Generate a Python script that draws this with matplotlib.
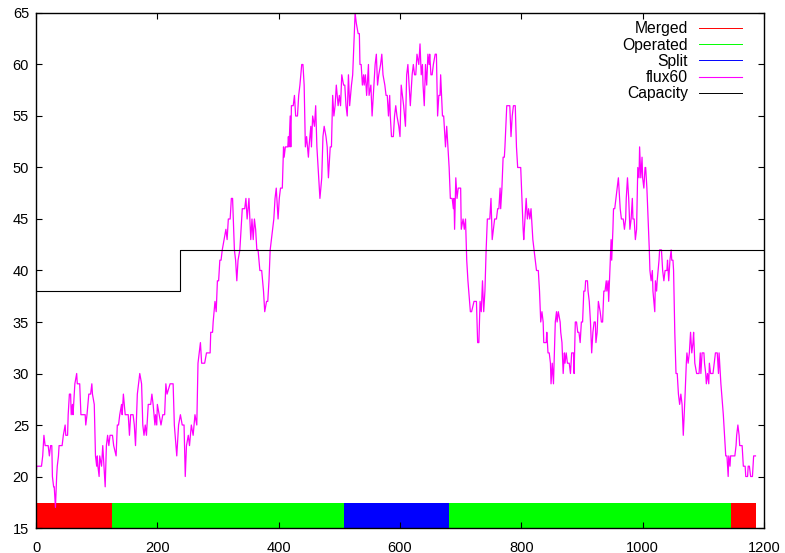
import matplotlib
matplotlib.use("Agg")
import matplotlib.pyplot as plt
from matplotlib.lines import Line2D

plt.rcParams["font.family"] = ["Liberation Sans", "DejaVu Sans"]

# flux60 series (time, flux)
flux_x = [0, 1, 9, 11, 13, 15, 20, 22, 24, 26, 27, 29, 30, 32, 34, 35, 37, 38, 43, 45,
          48, 49, 52, 53, 55, 57, 58, 60, 61, 64, 67, 68, 72, 74, 81, 82, 84, 87, 90, 92,
          93, 96, 98, 100, 101, 102, 104, 105, 108, 110, 112, 114, 116, 118, 120, 122, 126, 128, 132, 134,
          136, 138, 141, 142, 144, 147, 152, 154, 156, 160, 162, 164, 167, 171, 174, 176, 178, 180, 182, 185,
          189, 191, 193, 196, 197, 199, 200, 203, 206, 209, 212, 214, 216, 221, 226, 228, 232, 235, 238, 241,
          244, 246, 248, 251, 253, 256, 259, 262, 265, 267, 271, 273, 278, 281, 287, 288, 291, 292, 295, 297,
          299, 301, 303, 305, 307, 310, 313, 315, 317, 320, 322, 324, 327, 329, 331, 333, 336, 338, 340, 344,
          346, 348, 351, 354, 356, 358, 360, 362, 364, 366, 369, 372, 375, 377, 380, 382, 384, 386, 388, 390,
          392, 394, 396, 398, 399, 401, 403, 406, 408, 409, 411, 415, 416, 417, 419, 420, 421, 424, 426, 428,
          431, 433, 435, 438, 440, 442, 444, 446, 449, 450, 453, 454, 456, 459, 461, 463, 465, 468, 471, 473,
          475, 478, 480, 482, 485, 487, 489, 491, 493, 495, 498, 500, 502, 504, 507, 509, 511, 513, 515, 517,
          520, 522, 524, 526, 528, 531, 533, 534, 536, 538, 540, 541, 543, 545, 548, 549, 552, 554, 557, 559,
          561, 563, 565, 568, 570, 572, 575, 577, 579, 581, 583, 584, 586, 589, 591, 593, 595, 598, 600, 602,
          604, 606, 609, 611, 613, 615, 617, 620, 622, 624, 626, 628, 631, 633, 635, 637, 638, 640, 642, 644,
          646, 648, 649, 651, 653, 655, 658, 660, 662, 664, 666, 667, 670, 672, 673, 675, 677, 679, 681, 683,
          686, 688, 689, 690, 692, 694, 696, 700, 701, 704, 706, 708, 710, 712, 716, 718, 722, 726, 728, 730,
          732, 734, 736, 738, 740, 742, 744, 748, 750, 752, 754, 756, 759, 761, 763, 765, 766, 768, 770, 772,
          773, 776, 781, 783, 785, 787, 790, 792, 794, 799, 801, 803, 804, 806, 808, 810, 812, 814, 816, 818,
          819, 821, 823, 825, 828, 830, 832, 834, 836, 837, 841, 842, 844, 846, 848, 849, 851, 853, 854, 856,
          858, 859, 861, 864, 865, 867, 869, 871, 872, 874, 876, 879, 881, 883, 886, 887, 889, 891, 893, 895,
          897, 899, 901, 903, 905, 906, 909, 910, 912, 914, 916, 918, 920, 922, 923, 925, 927, 930, 932, 934,
          936, 938, 940, 941, 943, 944, 946, 948, 949, 951, 952, 954, 956, 958, 960, 962, 963, 965, 968, 970,
          972, 973, 975, 977, 979, 981, 983, 984, 986, 988, 990, 992, 994, 995, 997, 999, 1000, 1002, 1004, 1005,
          1007, 1009, 1011, 1012, 1014, 1016, 1017, 1020, 1021, 1023, 1024, 1027, 1028, 1031, 1033, 1035, 1037, 1040, 1041, 1043,
          1045, 1047, 1048, 1050, 1051, 1053, 1055, 1057, 1059, 1061, 1063, 1065, 1067, 1070, 1072, 1073, 1075, 1077, 1078, 1079,
          1081, 1083, 1084, 1086, 1089, 1093, 1095, 1096, 1098, 1101, 1102, 1104, 1105, 1107, 1109, 1110, 1112, 1116, 1118, 1120,
          1123, 1125, 1126, 1129, 1133, 1137, 1139, 1141, 1142, 1144, 1145, 1152, 1154, 1155, 1157, 1159, 1160, 1164, 1166, 1169,
          1170, 1173, 1174, 1176, 1178, 1181, 1183, 1186]
flux_y = [20, 21, 21, 22, 24, 23, 23, 22, 23, 23, 20, 19, 19, 17, 20, 21, 22, 23, 23, 24,
          25, 24, 24, 26, 28, 28, 26, 27, 26, 29, 30, 29, 29, 26, 26, 25, 26, 28, 28, 29,
          28, 27, 22, 21, 22, 21, 20, 22, 21, 23, 21, 19, 23, 24, 23, 24, 24, 23, 22, 25,
          25, 26, 27, 26, 28, 26, 26, 24, 26, 26, 25, 23, 28, 30, 29, 25, 24, 25, 24, 27,
          27, 28, 27, 25, 26, 25, 27, 26, 25, 26, 26, 29, 28, 29, 29, 25, 22, 25, 26, 25,
          25, 20, 23, 24, 23, 25, 24, 26, 25, 31, 33, 31, 31, 32, 32, 34, 34, 35, 37, 36,
          39, 39, 41, 41, 42, 43, 44, 43, 45, 45, 47, 47, 42, 41, 39, 41, 42, 44, 46, 46,
          47, 45, 47, 43, 45, 43, 45, 44, 42, 42, 40, 40, 38, 36, 37, 37, 39, 42, 43, 44,
          45, 47, 48, 46, 45, 47, 48, 48, 52, 51, 52, 52, 53, 52, 55, 52, 56, 56, 57, 55,
          55, 57, 58, 60, 60, 58, 52, 53, 51, 52, 54, 52, 55, 54, 56, 52, 50, 47, 49, 53,
          54, 53, 52, 49, 52, 52, 57, 55, 56, 58, 56, 57, 56, 59, 58, 58, 56, 55, 59, 56,
          58, 59, 62, 65, 64, 63, 63, 60, 60, 58, 59, 58, 59, 57, 60, 57, 58, 55, 58, 60,
          61, 58, 59, 60, 61, 59, 58, 57, 57, 55, 57, 55, 53, 53, 55, 56, 55, 54, 53, 58,
          57, 56, 54, 59, 60, 58, 56, 59, 60, 59, 59, 61, 60, 62, 59, 60, 58, 56, 60, 58,
          61, 60, 61, 59, 59, 60, 61, 61, 55, 57, 57, 59, 55, 55, 54, 52, 54, 52, 50, 47,
          47, 46, 47, 44, 49, 47, 48, 48, 44, 45, 44, 45, 41, 39, 36, 36, 37, 37, 33, 33,
          37, 36, 39, 36, 38, 42, 45, 45, 47, 43, 44, 45, 45, 46, 46, 48, 46, 48, 51, 51,
          52, 56, 56, 53, 55, 56, 56, 52, 50, 50, 47, 44, 43, 45, 47, 45, 46, 45, 46, 44,
          43, 42, 41, 40, 40, 38, 35, 36, 35, 33, 33, 34, 32, 32, 31, 29, 31, 29, 31, 35,
          36, 35, 36, 35, 34, 33, 30, 32, 31, 32, 31, 31, 30, 32, 32, 30, 35, 35, 34, 34,
          33, 35, 35, 38, 38, 39, 39, 38, 37, 35, 32, 34, 35, 35, 33, 34, 37, 36, 35, 35,
          38, 38, 39, 38, 39, 37, 40, 43, 41, 44, 46, 46, 47, 48, 49, 47, 46, 45, 45, 44,
          45, 47, 49, 47, 44, 45, 47, 45, 45, 43, 44, 50, 49, 52, 49, 51, 49, 48, 50, 50,
          48, 45, 42, 40, 39, 40, 38, 36, 39, 38, 39, 41, 42, 42, 40, 39, 40, 40, 41, 39,
          41, 42, 41, 41, 40, 34, 30, 30, 28, 27, 28, 27, 24, 28, 31, 32, 31, 32, 33, 34,
          32, 33, 34, 31, 30, 30, 32, 30, 32, 32, 31, 30, 29, 30, 29, 31, 30, 30, 31, 32,
          32, 30, 32, 29, 26, 22, 22, 20, 22, 21, 22, 22, 23, 24, 25, 24, 23, 23, 21, 21,
          20, 20, 21, 21, 20, 20, 22, 22]

# link capacity steps up once
cap_x = [0, 238, 1200]
cap_y = [38, 42, 42]

# operating state along the time axis
state_start = [0, 125, 508, 681, 1146]
state_end = [125, 508, 681, 1146, 1187]
state_name = ["Merged", "Operated", "Split", "Operated", "Merged"]
state_level = 17.4

state_colors = {"Merged": "#ff0000", "Operated": "#00ff00", "Split": "#0000ff"}

fig = plt.figure(figsize=(7.85, 5.53), dpi=100)
ax = fig.add_axes([0.0459, 0.0452, 0.9273, 0.9313])

for s, e, name in zip(state_start, state_end, state_name):
    ax.bar(s, state_level - 15, width=e - s, bottom=15, align="edge",
           color=state_colors[name], linewidth=0)

flux_line, = ax.plot(flux_x, flux_y, color="#ff00ff", lw=0.9)
cap_line, = ax.plot(cap_x, cap_y, color="black", lw=0.8, drawstyle="steps-post")

ax.set_xlim(0, 1200)
ax.set_ylim(15, 65)
ax.set_xticks(range(0, 1201, 200))
ax.set_yticks(range(15, 66, 5))
ax.tick_params(direction="in", length=4.5, width=0.8, top=True, right=True,
               labelsize=10.5, colors="black")
ax.tick_params(axis="x", pad=9)
ax.tick_params(axis="y", pad=5)
for sp in ax.spines.values():
    sp.set_linewidth(1.0)

handles = [Line2D([], [], color=state_colors[n], lw=0.7) for n in ["Merged", "Operated", "Split"]]
handles += [Line2D([], [], color="#ff00ff", lw=0.8), Line2D([], [], color="black", lw=0.7)]
labels = ["Merged", "Operated", "Split", "flux60", "Capacity"]
ax.legend(handles, labels, loc="upper right", frameon=False, markerfirst=False,
          fontsize=11.3, handlelength=2.75, handletextpad=0.7, labelspacing=0.08,
          borderaxespad=0.3, bbox_to_anchor=(0.985, 1.005))

fig.savefig("out.png", dpi=100)
